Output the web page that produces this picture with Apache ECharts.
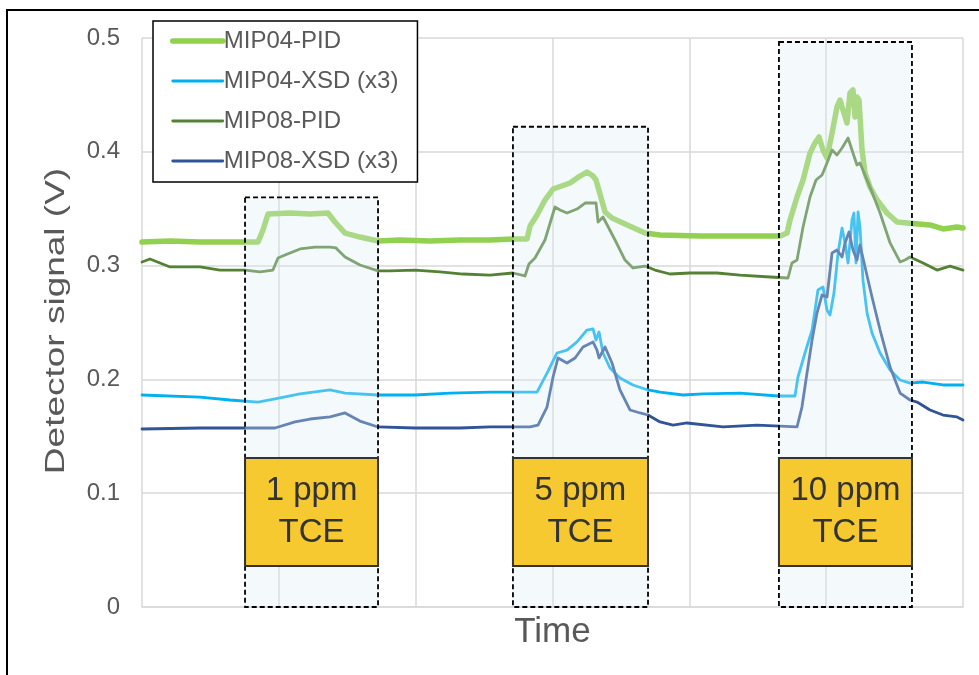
<!DOCTYPE html>
<html>
<head>
<meta charset="utf-8">
<title>Detector signal vs time</title>
<script src="https://cdn.jsdelivr.net/npm/echarts@6/dist/echarts.min.js"></script>
<style>
  html, body { margin: 0; padding: 0; background: #fff; }
  #chart { width: 979px; height: 675px; }
</style>
</head>
<body>
<div id="chart"></div>
<script>
// Time is in arbitrary units (6 grid divisions), signals in volts.
const pid04Time = [0, 0.205, 0.424, 0.643, 0.848, 0.884, 0.921, 1.082, 1.228, 1.359, 1.41, 1.484, 1.593, 1.725, 1.886, 2.105, 2.324, 2.543, 2.711, 2.814, 2.836, 2.887, 2.945, 3.004, 3.128, 3.201, 3.252, 3.296, 3.318, 3.384, 3.435, 3.53, 3.676, 3.786, 4.078, 4.37, 4.663, 4.714, 4.736, 4.787, 4.831, 4.882, 4.918, 4.948, 4.977, 5.006, 5.043, 5.079, 5.101, 5.123, 5.152, 5.174, 5.196, 5.211, 5.225, 5.24, 5.262, 5.284, 5.32, 5.372, 5.445, 5.518, 5.591, 5.759, 5.854, 5.956, 6];
const pid04Val = [0.3207, 0.3216, 0.3207, 0.3207, 0.3207, 0.3313, 0.3453, 0.3462, 0.3453, 0.3462, 0.3383, 0.3286, 0.3251, 0.3216, 0.3225, 0.3216, 0.3225, 0.3225, 0.3234, 0.3234, 0.3348, 0.3445, 0.3576, 0.3673, 0.3726, 0.3787, 0.3822, 0.3787, 0.3752, 0.3471, 0.3418, 0.3366, 0.3286, 0.3269, 0.326, 0.326, 0.326, 0.3286, 0.3401, 0.3603, 0.3752, 0.3989, 0.4077, 0.413, 0.4016, 0.3946, 0.4165, 0.4394, 0.4455, 0.4367, 0.4253, 0.4517, 0.4543, 0.4306, 0.4482, 0.4455, 0.4016, 0.3814, 0.3691, 0.3576, 0.3462, 0.3383, 0.3374, 0.3357, 0.3322, 0.3339, 0.333];

const xsd04Time = [0, 0.424, 0.643, 0.848, 0.972, 1.155, 1.374, 1.484, 1.725, 1.995, 2.251, 2.543, 2.887, 2.96, 3.033, 3.106, 3.179, 3.252, 3.296, 3.318, 3.34, 3.369, 3.42, 3.493, 3.588, 3.698, 3.786, 3.954, 4.1, 4.37, 4.648, 4.772, 4.794, 4.845, 4.897, 4.94, 4.977, 5.006, 5.028, 5.057, 5.087, 5.116, 5.138, 5.16, 5.189, 5.203, 5.218, 5.233, 5.247, 5.269, 5.299, 5.335, 5.394, 5.467, 5.54, 5.613, 5.708, 5.854, 6];
const xsd04Val = [0.1863, 0.1845, 0.1819, 0.1801, 0.1828, 0.1872, 0.1907, 0.188, 0.1863, 0.1863, 0.188, 0.1889, 0.1889, 0.2056, 0.2232, 0.2258, 0.2329, 0.2434, 0.2443, 0.2346, 0.2417, 0.2232, 0.21, 0.2012, 0.1951, 0.1907, 0.1889, 0.1863, 0.1872, 0.188, 0.1854, 0.1854, 0.2021, 0.2232, 0.2434, 0.2786, 0.2812, 0.261, 0.2566, 0.2759, 0.3111, 0.333, 0.3199, 0.3023, 0.3401, 0.3462, 0.3023, 0.3471, 0.3339, 0.2873, 0.2583, 0.2408, 0.2232, 0.2083, 0.1995, 0.1968, 0.1977, 0.1951, 0.1951];

const pid08Time = [0, 0.058, 0.205, 0.424, 0.57, 0.753, 0.862, 0.957, 0.994, 1.045, 1.155, 1.264, 1.374, 1.418, 1.432, 1.484, 1.593, 1.725, 1.812, 1.995, 2.178, 2.346, 2.543, 2.711, 2.799, 2.828, 2.872, 2.945, 3.018, 3.055, 3.106, 3.179, 3.238, 3.318, 3.333, 3.369, 3.457, 3.53, 3.588, 3.676, 3.749, 3.859, 4.005, 4.202, 4.37, 4.59, 4.721, 4.75, 4.787, 4.831, 4.882, 4.926, 4.97, 5.006, 5.043, 5.079, 5.116, 5.16, 5.196, 5.225, 5.247, 5.32, 5.394, 5.467, 5.54, 5.576, 5.613, 5.708, 5.81, 5.905, 6];
const pid08Val = [0.3032, 0.3058, 0.2988, 0.2988, 0.2961, 0.2961, 0.2944, 0.2961, 0.3067, 0.3093, 0.3146, 0.3163, 0.3163, 0.3155, 0.3137, 0.3076, 0.3005, 0.2953, 0.2953, 0.2961, 0.2944, 0.2926, 0.2917, 0.2935, 0.2909, 0.3014, 0.3067, 0.3225, 0.3515, 0.3489, 0.3462, 0.3497, 0.355, 0.355, 0.3383, 0.3427, 0.3225, 0.3049, 0.2979, 0.2996, 0.2961, 0.2926, 0.2935, 0.2935, 0.2917, 0.29, 0.2891, 0.3023, 0.3049, 0.3339, 0.3603, 0.3752, 0.3796, 0.3902, 0.4016, 0.3972, 0.4033, 0.4121, 0.3989, 0.3884, 0.3902, 0.3691, 0.3462, 0.3199, 0.3032, 0.3049, 0.3076, 0.3023, 0.2961, 0.2996, 0.2961];

const xsd08Time = [0, 0.424, 0.753, 0.972, 1.118, 1.228, 1.374, 1.484, 1.593, 1.725, 1.995, 2.324, 2.543, 2.836, 2.894, 2.96, 3.004, 3.04, 3.106, 3.165, 3.223, 3.296, 3.325, 3.34, 3.384, 3.435, 3.493, 3.567, 3.64, 3.698, 3.786, 3.881, 3.983, 4.246, 4.495, 4.787, 4.823, 4.86, 4.897, 4.933, 4.97, 5.006, 5.043, 5.079, 5.116, 5.138, 5.167, 5.196, 5.225, 5.247, 5.284, 5.335, 5.394, 5.467, 5.54, 5.613, 5.664, 5.759, 5.854, 5.956, 6];
const xsd08Val = [0.1564, 0.1573, 0.1573, 0.1573, 0.1626, 0.1652, 0.167, 0.1705, 0.1634, 0.1582, 0.1573, 0.1573, 0.1582, 0.1582, 0.1599, 0.1757, 0.2021, 0.2188, 0.2144, 0.2188, 0.2285, 0.2329, 0.2258, 0.2188, 0.2285, 0.2144, 0.1907, 0.1731, 0.1705, 0.1687, 0.1626, 0.1599, 0.1617, 0.1582, 0.1599, 0.1582, 0.1757, 0.2056, 0.2346, 0.2583, 0.2742, 0.2724, 0.3111, 0.3137, 0.3076, 0.3199, 0.3295, 0.3137, 0.3049, 0.3181, 0.2988, 0.2724, 0.2434, 0.2109, 0.188, 0.1819, 0.1801, 0.1731, 0.1687, 0.167, 0.1643];

// Exposure windows: start, end (time) and the height of the dashed frame (V)
const exposureStart = [0.753, 2.711, 4.655];
const exposureEnd = [1.725, 3.698, 5.627];
const exposureTop = [0.36, 0.422, 0.4965];
const exposureLabels = ['1 ppm\nTCE', '5 ppm\nTCE', '10 ppm\nTCE'];

const seriesNames = ['MIP04-PID', 'MIP04-XSD (x3)', 'MIP08-PID', 'MIP08-XSD (x3)'];
const seriesColors = ['#92d050', '#00b0f0', '#548235', '#2f5597'];
const seriesWidths = [5.5, 2.8, 2.8, 2.8];

const zip = (t, v) => t.map((x, i) => [x, v[i]]);

const FONT = '"Liberation Sans", Arial, sans-serif';
const GREY = '#595959';

const chart = echarts.init(document.getElementById('chart'), null, { renderer: 'canvas' });

const lineSeries = (i, data) => ({
  name: seriesNames[i],
  type: 'line',
  data,
  symbol: 'none',
  showSymbol: false,
  smooth: false,
  z: 2,
  lineStyle: { color: seriesColors[i], width: seriesWidths[i], join: 'round', cap: 'round' },
  itemStyle: { color: seriesColors[i] },
  emphasis: { disabled: true }
});

chart.setOption({
  animation: false,
  backgroundColor: '#fff',
  textStyle: { fontFamily: FONT },
  grid: { left: 142, right: 16, top: 38, bottom: 68, containLabel: false },
  legend: {
    data: seriesNames.map((name, i) => ({
      name,
      lineStyle: { width: seriesWidths[i] }
    })),
    orient: 'vertical',
    left: 153,
    top: 21,
    padding: [8, 19, 9, 17],
    itemWidth: 50,
    itemHeight: 20,
    itemGap: 16,
    borderColor: '#000',
    borderWidth: 1.5,
    backgroundColor: '#fff',
    itemStyle: { opacity: 0 },
    z: 20,
    textStyle: { fontFamily: FONT, fontSize: 24, color: GREY, lineHeight: 24, padding: [0, 0, 0, -4] },
    selectedMode: false
  },
  xAxis: {
    type: 'value',
    min: 0,
    max: 6,
    interval: 1,
    name: 'Time',
    nameLocation: 'middle',
    nameGap: 8,
    nameTextStyle: { fontFamily: FONT, fontSize: 35, color: GREY, verticalAlign: 'top' },
    axisLine: { show: true, lineStyle: { color: '#d9d9d9', width: 1.5 } },
    axisTick: { show: false },
    axisLabel: { show: false },
    splitLine: { show: true, lineStyle: { color: '#d9d9d9', width: 1.5 } }
  },
  yAxis: {
    type: 'value',
    min: 0,
    max: 0.5,
    interval: 0.1,
    axisLine: { show: false },
    axisTick: { show: false },
    axisLabel: { fontFamily: FONT, fontSize: 24, color: GREY, margin: 22 },
    splitLine: { show: true, lineStyle: { color: '#d9d9d9', width: 1.5 } }
  },
  graphic: [
    {
      type: 'rect',
      shape: { x: 7, y: 10, width: 1000, height: 700 },
      style: { fill: 'none', stroke: '#000', lineWidth: 2 },
      silent: true,
      z: 0
    },
    {
      // Vertical axis title, set in a narrow, elongated face
      type: 'text',
      x: 57,
      y: 321,
      rotation: Math.PI / 2,
      scaleX: 1.37,
      silent: true,
      style: {
        text: 'Detector signal (V)',
        font: '27px ' + FONT,
        fill: GREY,
        align: 'center',
        verticalAlign: 'middle'
      }
    }
  ],
  series: [
    lineSeries(0, zip(pid04Time, pid04Val)),
    lineSeries(1, zip(xsd04Time, xsd04Val)),
    lineSeries(2, zip(pid08Time, pid08Val)),
    lineSeries(3, zip(xsd08Time, xsd08Val)),
    {
      // Translucent dashed exposure frames with their concentration tags
      type: 'custom',
      name: 'exposure',
      z: 10,
      clip: false,
      silent: true,
      data: exposureStart.map((s, i) => [s, exposureEnd[i], exposureTop[i]]),
      encode: { x: [0, 1], y: 2 },
      renderItem: function (params, api) {
        const tl = api.coord([api.value(0), api.value(2)]);
        const br = api.coord([api.value(1), 0]);
        const tagTop = api.coord([api.value(0), 0.131])[1];
        const tagBottom = api.coord([api.value(0), 0.036])[1];
        const w = br[0] - tl[0];
        return {
          type: 'group',
          children: [
            {
              type: 'rect',
              shape: { x: tl[0], y: tl[1], width: w, height: br[1] - tl[1] },
              style: { fill: 'rgba(222,235,247,0.32)', stroke: '#000', lineWidth: 1.8, lineDash: [5, 3] }
            },
            {
              type: 'rect',
              shape: { x: tl[0], y: tagTop, width: w, height: tagBottom - tagTop },
              style: { fill: '#f7c931', stroke: '#333', lineWidth: 2 }
            },
            {
              type: 'text',
              style: {
                x: tl[0] + w / 2,
                y: (tagTop + tagBottom) / 2,
                text: exposureLabels[params.dataIndex],
                fill: '#333',
                font: '33px ' + FONT,
                lineHeight: 42,
                align: 'center',
                verticalAlign: 'middle'
              }
            }
          ]
        };
      }
    }
  ]
});
</script>
</body>
</html>
